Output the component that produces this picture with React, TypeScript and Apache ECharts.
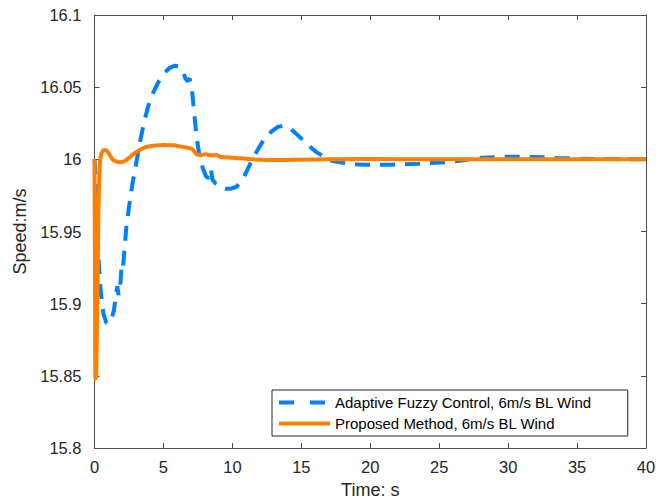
import React, { useEffect, useRef } from "react";
import * as echarts from "echarts";

// Adaptive Fuzzy Control (blue dashed)
const fuzzyTime = [
  0, 0.1, 0.2, 0.3, 0.45, 0.65, 0.85, 1.0, 1.2, 1.4, 1.55, 1.65, 1.75, 1.85, 1.95, 2.05, 2.15, 2.3, 2.5, 2.75,
  3.0, 3.3, 3.6, 3.9, 4.25, 4.6, 5.0, 5.4, 5.8, 6.1, 6.4, 6.6, 6.75, 6.9, 7.05, 7.2, 7.4, 7.6, 7.85, 8.1,
  8.3, 8.45, 8.55, 8.8, 9.1, 9.5, 9.9, 10.3, 10.8, 11.3, 11.8, 12.3, 12.8, 13.3, 13.7, 14.1, 14.6, 15.1, 15.6, 16.1,
  16.6, 17.2, 17.8, 18.5, 19.5, 20.5, 21.5, 22.5, 23.5, 24.5, 25.5, 26.5, 27.5, 28.5, 29.5, 30.5, 31.5, 32.5, 33.5, 35,
  37, 40,
];
const fuzzySpeed = [
  16.0, 15.985, 15.955, 15.93, 15.908, 15.893, 15.887, 15.886, 15.888, 15.895, 15.905, 15.912, 15.906, 15.91, 15.924, 15.922, 15.935, 15.952, 15.967, 15.983,
  15.996, 16.012, 16.026, 16.037, 16.046, 16.053, 16.059, 16.063, 16.0648, 16.0645, 16.061, 16.056, 16.054, 16.056, 16.05, 16.035, 16.016, 16.003, 15.994, 15.988,
  15.987, 15.993, 15.986, 15.983, 15.981, 15.9797, 15.9797, 15.981, 15.987, 15.997, 16.006, 16.014, 16.019, 16.0225, 16.0232, 16.022, 16.018, 16.0135, 16.009, 16.005,
  16.002, 15.999, 15.998, 15.9968, 15.9962, 15.9962, 15.9963, 15.9966, 15.997, 15.9975, 15.998, 15.999, 16.0005, 16.0013, 16.0017, 16.0018, 16.0017, 16.0014, 16.001, 16.0005,
  16.0002, 16.0,
];

// Proposed Method (orange solid)
const proposedTime = [
  0, 0.03, 0.07, 0.12, 0.2, 0.28, 0.38, 0.5, 0.7, 0.9, 1.1, 1.35, 1.6, 1.9, 2.2, 2.5, 2.8, 3.2, 3.7, 4.3,
  5.0, 5.7, 6.3, 6.8, 7.0, 7.2, 7.4, 7.7, 8.1, 8.4, 8.8, 9.2, 9.8, 10.5, 11.5, 12.5, 13.5, 15, 17, 19,
  22, 26, 30, 40,
];
const proposedSpeed = [
  16.0, 15.93, 15.848, 15.85, 15.9, 15.96, 15.995, 16.004, 16.0065, 16.006, 16.003, 15.9995, 15.9985, 15.998, 15.9988, 16.001, 16.0035, 16.006, 16.0085, 16.0095,
  16.01, 16.0098, 16.0088, 16.008, 16.0075, 16.006, 16.0035, 16.003, 16.0035, 16.0028, 16.003, 16.0015, 16.0013, 16.0007, 16.0, 15.9996, 15.9995, 15.9997, 16.0, 16.0003,
  16.0001, 16.0, 16.0, 16.0,
];

const seriesNames = ["Adaptive Fuzzy Control, 6m/s BL Wind", "Proposed Method, 6m/s BL Wind"];
const xTitle = "Time: s";
const yTitle = "Speed:m/s";

const FONT = "'Liberation Sans', Arial, Helvetica, sans-serif";
const AX = "#262626";
const LINE = "#4a4a4a";

export default function App() {
  const ref = useRef<HTMLDivElement>(null);
  useEffect(() => {
    if (!ref.current) return;
    const chart = echarts.init(ref.current, undefined, { renderer: "svg" });
    const fmt = (v: number) => String(+v.toFixed(2));
    const xBase = {
      type: "value",
      min: 0,
      max: 40,
      interval: 5,
      splitLine: { show: false },
      axisLine: { show: true, onZero: false, lineStyle: { color: LINE, width: 1 } },
      axisTick: { show: true, inside: true, length: 5, lineStyle: { color: LINE } },
    };
    const yBase = {
      type: "value",
      min: 15.8,
      max: 16.1,
      interval: 0.05,
      splitLine: { show: false },
      axisLine: { show: true, onZero: false, lineStyle: { color: LINE, width: 1 } },
      axisTick: { show: true, inside: true, length: 5, lineStyle: { color: LINE } },
    };
    chart.setOption({
      animation: false,
      backgroundColor: "#ffffff",
      textStyle: { fontFamily: FONT },
      grid: { left: 94.5, right: 19, top: 15, bottom: 53 },
      xAxis: [
        {
          ...xBase,
          position: "bottom",
          name: xTitle,
          nameLocation: "middle",
          nameGap: 33,
          nameTextStyle: { fontSize: 18, color: AX, fontFamily: FONT },
          axisLabel: { show: true, margin: 10, fontSize: 16.5, color: AX, fontFamily: FONT, formatter: fmt },
        },
        { ...xBase, position: "top", axisLabel: { show: false } },
      ],
      yAxis: [
        {
          ...yBase,
          position: "left",
          name: yTitle,
          nameLocation: "middle",
          nameGap: 62,
          nameTextStyle: { fontSize: 18, color: AX, fontFamily: FONT },
          axisLabel: { show: true, margin: 13, fontSize: 16.5, color: AX, fontFamily: FONT, formatter: fmt },
        },
        { ...yBase, position: "right", axisLabel: { show: false } },
      ],
      legend: {
        show: true,
        orient: "vertical",
        left: 272,
        top: 390,
        padding: [5, 36, 5, 5],
        itemWidth: 51,
        itemHeight: 14,
        itemGap: 6,
        borderColor: "#262626",
        borderWidth: 1,
        backgroundColor: "#ffffff",
        itemStyle: { opacity: 0 },
        lineStyle: { width: 4 },
        textStyle: { fontSize: 15, color: "#000000", fontFamily: FONT },
        data: [
          { name: seriesNames[0], lineStyle: { width: 4, type: [15, 16] } },
          { name: seriesNames[1] },
        ],
      },
      series: [
        {
          name: seriesNames[0],
          type: "line",
          xAxisIndex: 0,
          yAxisIndex: 0,
          symbol: "none",
          showSymbol: false,
          smooth: false,
          data: fuzzyTime.map((t, i) => [t, fuzzySpeed[i]]),
          lineStyle: { color: "#0080ff", width: 4, type: [15, 10] },
          itemStyle: { color: "#0080ff" },
          z: 2,
        },
        {
          name: seriesNames[1],
          type: "line",
          xAxisIndex: 0,
          yAxisIndex: 0,
          symbol: "none",
          showSymbol: false,
          smooth: 0.3,
          data: proposedTime.map((t, i) => [t, proposedSpeed[i]]),
          lineStyle: { color: "#ff8000", width: 4 },
          itemStyle: { color: "#ff8000" },
          z: 3,
        },
      ],
    });
    return () => chart.dispose();
  }, []);
  return <div ref={ref} style={{ width: 665, height: 504, position: "absolute", left: 0, top: 0 }} />;
}
